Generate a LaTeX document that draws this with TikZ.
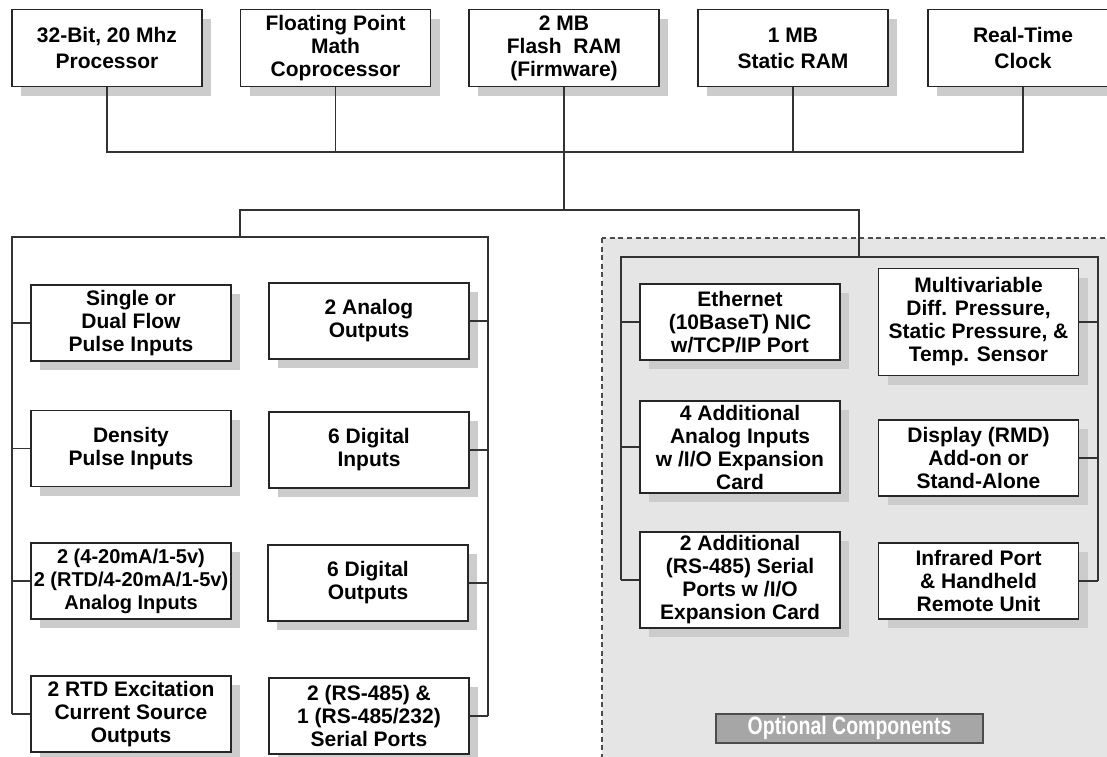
\documentclass[tikz,border=0pt]{standalone}
\usepackage{fontspec}
\setmainfont{Liberation Sans}
\newfontfamily\narrowfont[FakeStretch=0.78]{Liberation Sans}
\usetikzlibrary{shadows}

\begin{document}
\begin{tikzpicture}[x=0.5pt, y=-0.5pt,
  box/.style={draw=black!85, line width=0.7pt, fill=white, align=center, inner sep=0pt, minimum width=95pt, minimum height=38.5pt, font=\bfseries\fontsize{10.5}{11.5}\selectfont, drop shadow={shadow xshift=4.5pt, shadow yshift=-4.5pt, fill=black!20, opacity=1}},
  wbox/.style={box, minimum width=100pt, minimum height=38pt},
  bus/.style={draw=black!80, line width=0.7pt},
  optlabel/.style={draw=black!70, line width=0.7pt, fill=black!35, text=white, inner sep=0pt, minimum width=133.5pt, minimum height=14.5pt, font=\narrowfont\bfseries\fontsize{12.5}{13}\selectfont}]
\useasboundingbox (0,0) rectangle (1107,756);
\draw[fill=black!10, draw=black!70, line width=0.6pt, dash pattern=on 2.5pt off 1.8pt] (602,238) rectangle (1140,790);

\node[box] (cpu) at (107,48) {32-Bit, 20 Mhz\\[1.5pt]Processor};
\node[box] (fpu) at (335.5,48) {Floating Point\\Math\\Coprocessor};
\node[box] (flash) at (564,48) {2 MB\\Flash\ \ RAM\\(Firmware)};
\node[box] (sram) at (793,48) {1 MB\\[1.5pt]Static RAM};
\node[box] (rtc) at (1023,48) {Real-Time\\[1.5pt]Clock};

\node[wbox] (flow) at (131,323) {Single or\\Dual Flow\\Pulse Inputs};
\node[wbox] (aout) at (369,321) {2 Analog\\Outputs};
\node[wbox] (dens) at (131,448.5) {Density\\Pulse Inputs};
\node[wbox] (din) at (369,450) {6 Digital\\Inputs};
\node[wbox, font=\bfseries\fontsize{10}{11.5}\selectfont] (ain) at (131,581) {2 (4-20mA/1-5v)\\2 (RTD/4-20mA/1-5v)\\Analog Inputs};
\node[wbox] (dout) at (368,583) {6 Digital\\Outputs};
\node[wbox] (rtdx) at (131,714) {2 RTD Excitation\\Current Source\\Outputs};
\node[wbox] (ser) at (369,716) {2 (RS-485) \&\\1 (RS-485/232)\\Serial Ports};

\node[wbox] (eth) at (740,322) {Ethernet\\(10BaseT) NIC\\w/TCP/IP Port};
\node[wbox, minimum height=46pt] (xain) at (740,447) {4 Additional\\Analog Inputs\\w /I/O Expansion\\Card};
\node[wbox, minimum height=48pt] (xser) at (740,580) {2 Additional\\(RS-485) Serial\\Ports w /I/O\\Expansion Card};
\node[wbox, minimum height=53.5pt] (mvs) at (978.5,322) {Multivariable\\Diff. Pressure,\\Static Pressure, \&\\Temp. Sensor};
\node[wbox] (rmd) at (978.5,458) {Display (RMD)\\Add-on or\\Stand-Alone};
\node[wbox] (irda) at (978.5,581) {Infrared Port\\\& Handheld\\Remote Unit};

\node[optlabel] (opt) at (849.5,728.5) {Optional Components};

\coordinate (topbus) at (0,152);
\coordinate (midbus) at (0,210);
\coordinate (lgrp) at (240,237);
\coordinate (rgrp) at (859,257);
\coordinate (lbusL) at (12,237);
\coordinate (lbusR) at (488,237);
\coordinate (rbusL) at (621,257);
\coordinate (rbusR) at (1098,257);

\draw[bus] (cpu.south) |- (rtc.south |- topbus) -- (rtc.south);
\draw[bus] (fpu.south) -- (fpu.south |- topbus);
\draw[bus] (sram.south) -- (sram.south |- topbus);
\draw[bus] (flash.south) -- (flash.south |- midbus);
\draw[bus] (lgrp) |- (rgrp |- midbus) -- (rgrp);

\draw[bus] (lbusL |- rtdx.west) -- (lbusL) -- (lbusR) -- (lbusR |- ser.east);
\draw[bus] (flow.west) -- (lbusL |- flow.west);
\draw[bus] (dens.west) -- (lbusL |- dens.west);
\draw[bus] (ain.west) -- (lbusL |- ain.west);
\draw[bus] (rtdx.west) -- (lbusL |- rtdx.west);
\draw[bus] (aout.east) -- (lbusR |- aout.east);
\draw[bus] (din.east) -- (lbusR |- din.east);
\draw[bus] (dout.east) -- (lbusR |- dout.east);
\draw[bus] (ser.east) -- (lbusR |- ser.east);

\draw[bus] (rbusL |- xser.west) -- (rbusL) -- (rbusR) -- (rbusR |- irda.east);
\draw[bus] (eth.west) -- (rbusL |- eth.west);
\draw[bus] (xain.west) -- (rbusL |- xain.west);
\draw[bus] (xser.west) -- (rbusL |- xser.west);
\draw[bus] (mvs.east) -- (rbusR |- mvs.east);
\draw[bus] (rmd.east) -- (rbusR |- rmd.east);
\draw[bus] (irda.east) -- (rbusR |- irda.east);
\end{tikzpicture}
\end{document}
